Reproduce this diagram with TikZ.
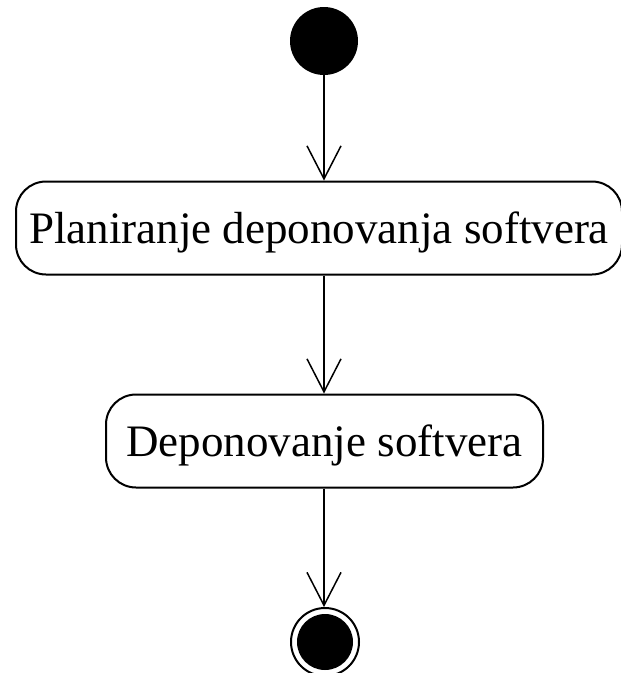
\documentclass[tikz,border=0pt]{standalone}
\usepackage{fontspec}
\setmainfont{Liberation Serif}
\usetikzlibrary{arrows.meta}
\begin{document}
\begin{tikzpicture}[x=1pt,y=-1pt,
  action/.style={draw, line width=2pt, rounded corners=30pt, minimum height=93pt,
    inner sep=0pt, text height=30pt, text depth=0pt,
    font=\fontsize{45}{54}\selectfont},
  flow/.style={draw, line width=1.5pt, -{Straight Barb[length=33pt,width=34pt,line width=1.5pt]}},
  initial/.style={circle, fill, minimum size=68pt, inner sep=0pt},
  final/.style={circle, draw, line width=2pt, minimum size=68pt, inner sep=0pt},
  finaldot/.style={circle, fill, minimum size=56pt, inner sep=0pt}]
\useasboundingbox (0,0) rectangle (621,673);
\node[initial] (start) at (324,41) {};
\node[action, minimum width=606pt] (a1) at (319,228) {Planiranje deponovanja softvera};
\node[action, minimum width=437pt] (a2) at (324.5,441) {Deponovanje softvera};
\node[final] (end) at (325,642) {};
\node[finaldot] (enddot) at (end) {};
\draw[flow] (start.south) -- (a1.north -| start);
\draw[flow] (a1.south -| start) -- (a2.north -| start);
\draw[flow] (a2.south -| start) -- (end.north -| start);
\end{tikzpicture}
\end{document}
